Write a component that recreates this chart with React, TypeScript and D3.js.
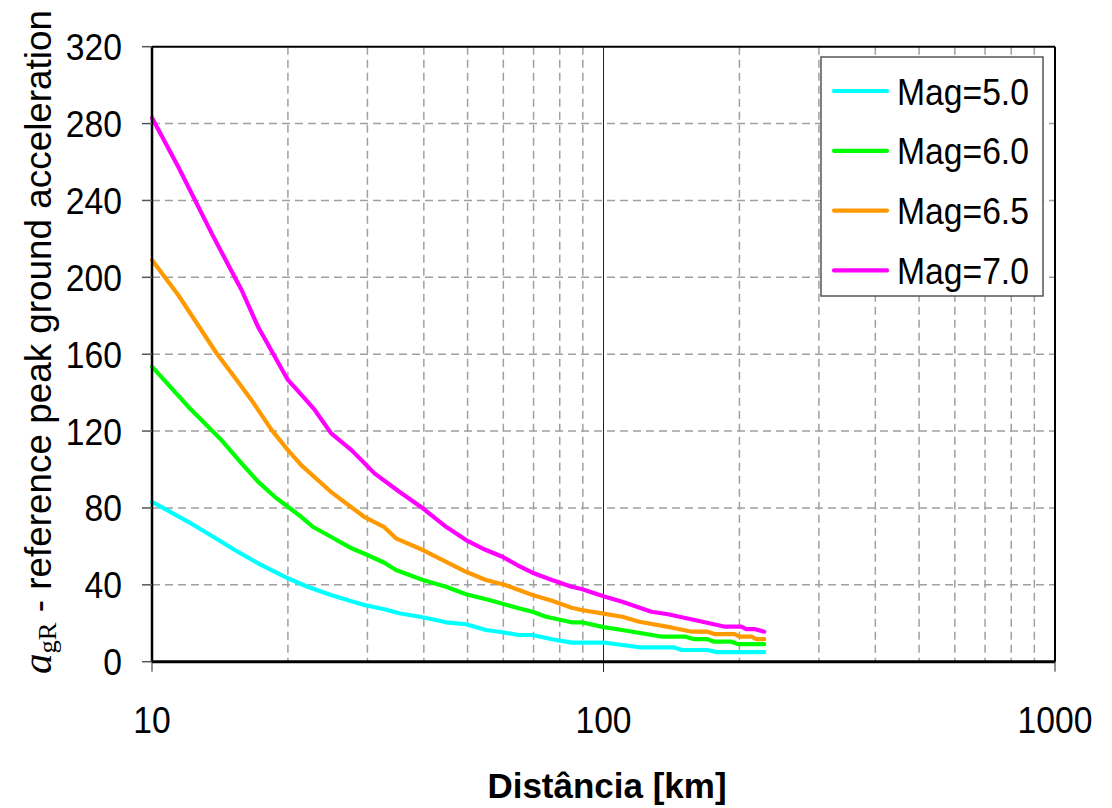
import * as d3 from 'd3';

// distance [km] / pga per magnitude
const dist50 = [10, 12.03, 14.25, 15.25, 17.17, 20, 22.1, 24.9, 29.5, 32.7, 35.3, 39.8, 44.8, 49.6, 54.9, 59.7, 64.9, 69.6, 76.9, 85, 100, 120, 143, 149, 170, 178, 227];
const pga50 = [83.2, 72.8, 62.4, 58.1, 51.2, 43.4, 39, 34.7, 29.5, 27.3, 25.2, 23.1, 20.5, 19.5, 16.5, 15.3, 13.9, 13.9, 11.7, 9.9, 10, 7.5, 7.5, 6.1, 6.1, 5, 5];

const dist60 = [10, 12.03, 14.25, 15.79, 17.17, 18.7, 20, 21.4, 22.7, 24.9, 27.66, 30, 32.7, 34.7, 39.8, 44.8, 49.6, 55.8, 64.9, 69.6, 74.6, 85, 89.4, 100, 110, 135, 152, 159, 170, 176, 192, 199, 227];
const pga60 = [153.5, 132.7, 115.3, 103.2, 93.7, 85.8, 80.6, 75.4, 70.2, 65, 59, 55.5, 51.5, 47.7, 42.5, 39, 35.1, 32.1, 27.8, 26, 23.4, 20.5, 20.5, 18, 16.5, 13, 13, 11.7, 11.7, 10.4, 10.4, 9.1, 9.1];

const dist65 = [10, 11.43, 13.9, 15.4, 16.6, 18.4, 20, 21.4, 24.9, 29.5, 32.7, 34.7, 39.8, 49.6, 54.9, 60.6, 69.6, 76.9, 85, 89.4, 100, 110, 120, 142, 157, 170, 176, 195, 200, 213, 218, 227];
const pga65 = [209, 190.8, 160.5, 146.6, 136.2, 120.6, 110.1, 102.3, 88.4, 75.4, 70, 64.2, 58.1, 46.8, 42.5, 39.9, 34.7, 31.7, 28.1, 26.9, 25, 23.4, 20.8, 17.7, 15.6, 15.6, 14.4, 14.4, 13, 13, 11.7, 11.7];

const dist70 = [10, 11.43, 13.55, 15.25, 15.79, 17.17, 20, 21.78, 22.93, 24.94, 27.66, 31.1, 35.3, 39.8, 44.8, 49.6, 54.9, 59.7, 64.4, 69.6, 76.9, 85, 89.4, 100, 110, 127.7, 139, 159, 186, 202, 207, 216, 227];
const pga70 = [283, 257.5, 223, 200, 193.4, 174.3, 146.6, 137, 131, 118.8, 110.1, 98, 88.4, 79.8, 70.2, 63.3, 58.1, 54.6, 50.3, 46.3, 42.5, 39, 37.8, 34, 31.2, 26, 24.7, 21.7, 18.2, 18.2, 17, 17, 15.6];

const seriesNames = ['Mag=5.0', 'Mag=6.0', 'Mag=6.5', 'Mag=7.0'];
const seriesColors = ['#00ffff', '#00ff00', '#ff9900', '#ff00ff'];
const yTicks = [0, 40, 80, 120, 160, 200, 240, 280, 320];
const xTicks = [10, 100, 1000];
const xMinor = [20, 30, 40, 50, 60, 70, 80, 90, 200, 300, 400, 500, 600, 700, 800, 900];

const W = 1112;
const H = 808;
const m = { left: 152, right: 1055, top: 46.7, bottom: 661.7 };
const sans = 'Liberation Sans, Arial, sans-serif';
const serif = 'Liberation Serif, Times New Roman, serif';

export default function App() {
  const x = d3.scaleLog().domain([10, 1000]).range([m.left, m.right]);
  const y = d3.scaleLinear().domain([0, 320]).range([m.bottom, m.top]);

  const series = [
    { d: dist50, v: pga50 },
    { d: dist60, v: pga60 },
    { d: dist65, v: pga65 },
    { d: dist70, v: pga70 }
  ];

  const line = d3
    .line<[number, number]>()
    .x((p) => x(p[0]))
    .y((p) => y(p[1]));

  const condensed = (tx: number, ty: number) => `translate(${tx},${ty}) scale(0.91,1)`;

  return (
    <svg width={W} height={H} style={{ position: 'absolute', left: 0, top: 0, background: '#fff' }}>
      {/* grid */}
      <g stroke='#a0a0a0' strokeWidth={1.5} strokeDasharray='8,5'>
        {yTicks.slice(1, -1).map((t) => (
          <line key={'h' + t} x1={m.left} x2={m.right} y1={y(t)} y2={y(t)} />
        ))}
        {xMinor.map((t) => (
          <line key={'v' + t} x1={x(t)} x2={x(t)} y1={m.top} y2={m.bottom} />
        ))}
      </g>
      <line x1={x(100)} x2={x(100)} y1={m.top} y2={m.bottom + 10} stroke='#222' strokeWidth={1} />

      {/* series */}
      <g fill='none' strokeWidth={4.2} strokeLinejoin='round' strokeLinecap='round'>
        {series.map((s, i) => (
          <path
            key={i}
            d={line(s.d.map((dd, k) => [dd, s.v[k]] as [number, number])) || ''}
            stroke={seriesColors[i]}
          />
        ))}
      </g>

      {/* frame */}
      <line x1={m.left} x2={m.right} y1={m.top} y2={m.top} stroke='#000' strokeWidth={2} />
      <line x1={m.right} x2={m.right} y1={m.top} y2={m.bottom} stroke='#000' strokeWidth={2} />
      <line x1={m.left} x2={m.left} y1={m.top} y2={m.bottom} stroke='#000' strokeWidth={2.5} />
      <line x1={m.left} x2={m.right} y1={m.bottom} y2={m.bottom} stroke='#000' strokeWidth={3} />

      {/* y axis */}
      {yTicks.map((t) => (
        <g key={'yt' + t}>
          <line x1={m.left - 10} x2={m.left} y1={y(t)} y2={y(t)} stroke='#555' strokeWidth={1.5} />
          <text
            transform={condensed(122, y(t) + 13.5)}
            textAnchor='end'
            fontFamily={sans}
            fontSize={37}
            fill='#000'
          >
            {t}
          </text>
        </g>
      ))}

      {/* x axis */}
      {xTicks.map((t) => (
        <g key={'xt' + t}>
          <line x1={x(t)} x2={x(t)} y1={m.bottom} y2={m.bottom + 10} stroke='#222' strokeWidth={1} />
          <text
            transform={condensed(x(t), 733)}
            textAnchor='middle'
            fontFamily={sans}
            fontSize={37}
            fill='#000'
          >
            {t}
          </text>
        </g>
      ))}

      <text x={607} y={798} textAnchor='middle' fontFamily={sans} fontWeight='bold' fontSize={35}>
        Distância [km]
      </text>

      <text
        transform='translate(51,342) rotate(-90)'
        textAnchor='middle'
        fontFamily={sans}
        fontSize={36}
        textLength={664}
        lengthAdjust='spacingAndGlyphs'
        style={{ whiteSpace: 'pre' }}
      >
        <tspan fontFamily={serif} fontStyle='italic' fontSize={40}>
          a
        </tspan>
        <tspan fontFamily={serif} fontSize={26} dy={5}>
          gR
        </tspan>
        <tspan dy={-5}>{' - reference peak ground acceleration'}</tspan>
      </text>

      {/* legend */}
      <rect x={821} y={57} width={222} height={239} fill='#fff' stroke='#555' strokeWidth={1.5} />
      {seriesNames.map((name, i) => {
        const ly = 91 + i * 59.8;
        return (
          <g key={name}>
            <line x1={834} x2={887} y1={ly} y2={ly} stroke={seriesColors[i]} strokeWidth={4.2} strokeLinecap='round' />
            <text transform={condensed(897, ly + 13.5)} fontFamily={sans} fontSize={37} fill='#000'>
              {name}
            </text>
          </g>
        );
      })}
    </svg>
  );
}
